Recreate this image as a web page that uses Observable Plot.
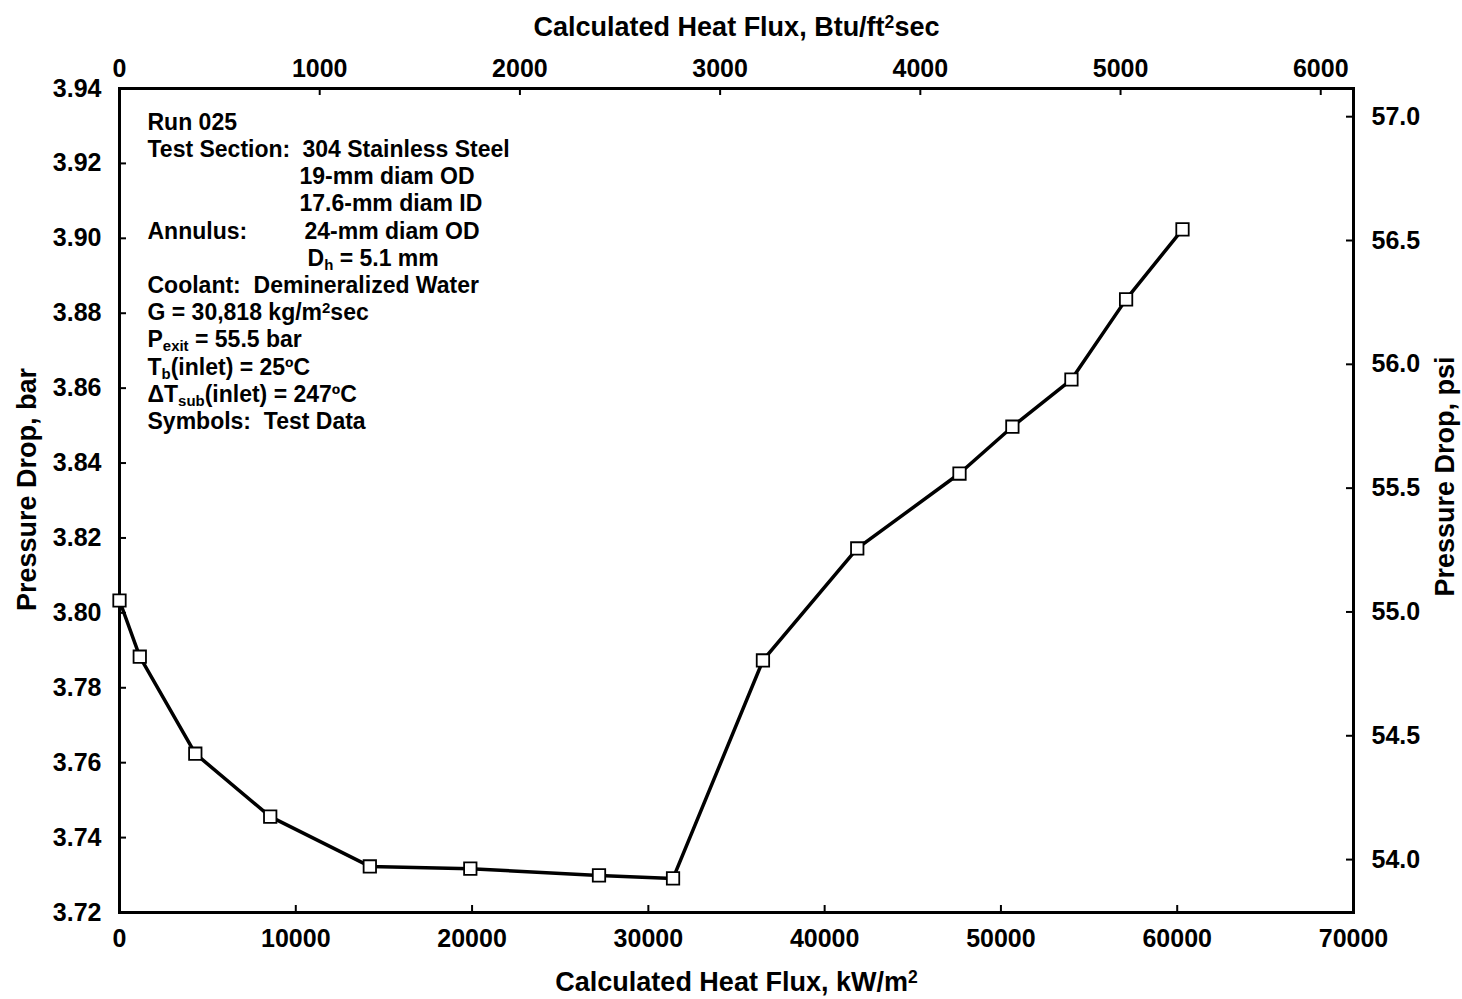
<!DOCTYPE html>
<html>
<head>
<meta charset="utf-8">
<script src="https://cdn.jsdelivr.net/npm/d3@7"></script>
<script src="https://cdn.jsdelivr.net/npm/@observablehq/plot@0.6"></script>
<style>
  html, body { margin: 0; padding: 0; background: #fff; }
  #chart svg { display: block; }
</style>
</head>
<body>
<div id="chart"></div>
<script>
// ---- Data ----
const heatFluxKw = [0, 1150, 4300, 8550, 14200, 19900, 27200, 31400, 36500, 41850, 47650, 50650, 54000, 57100, 60300];
const pressureDropBar = [3.8033, 3.7883, 3.7624, 3.7456, 3.7323, 3.7317, 3.7299, 3.7291, 3.7873, 3.8172, 3.8372, 3.8497, 3.8623, 3.8837, 3.9024];

const xTicksKw = [0, 10000, 20000, 30000, 40000, 50000, 60000, 70000];
const yTicksBar = [3.72, 3.74, 3.76, 3.78, 3.80, 3.82, 3.84, 3.86, 3.88, 3.90, 3.92, 3.94];
const topTicksBtu = [0, 1000, 2000, 3000, 4000, 5000, 6000];
const rightTicksPsi = [54.0, 54.5, 55.0, 55.5, 56.0, 56.5, 57.0];

// unit conversions (secondary axes)
const kwPerBtu = 11.357;            // 1 Btu/ft^2 s = 11.357 kW/m^2
const psiAtMid = 55.5, barAtMid = 3.8333, psiPerBar = 15.125; // right-axis alignment as drawn

const titleTop = "Calculated Heat Flux, Btu/ft^{2}sec";
const titleBottom = "Calculated Heat Flux, kW/m^{2}";
const titleLeft = "Pressure Drop, bar";
const titleRight = "Pressure Drop, psi";

const notesLeft = [
  "Run 025",
  "Test Section:",
  "Annulus:",
  "Coolant:\u00a0\u00a0Demineralized Water",
  "G = 30,818 kg/m^{2}sec",
  "P_{exit} = 55.5 bar",
  "T_{b}(inlet) = 25ºC",
  "ΔT_{sub}(inlet) = 247ºC",
  "Symbols:\u00a0\u00a0Test Data"
];
const notesRight = [
  "304 Stainless Steel",
  "19-mm diam OD",
  "17.6-mm diam ID",
  "24-mm diam OD",
  "D_{h} = 5.1 mm"
];

// ---- build ----
const points = heatFluxKw.map((x, i) => ({x, y: pressureDropBar[i]}));
const topTicks = topTicksBtu.map(b => ({v: b * kwPerBtu, label: String(b)}));
const rightTicks = rightTicksPsi.map(p => ({v: barAtMid + (p - psiAtMid) / psiPerBar, label: p.toFixed(1)}));

const W = 1462, H = 999;
const mL = 119, mR = 109, mT = 88, mB = 87;
const fw = W - mL - mR, fh = H - mT - mB;
const tick = 7;

// layout of annotation lines (row index, x offset within frame)
const leftRows = [0, 1, 4, 6, 7, 8, 9, 10, 11];
const leftDx = 28;
const rightLayout = [[1, 183], [2, 180], [3, 180], [4, 185], [5, 188]];
const rowY = r => 34 + r * 27.2;

const font = "'Liberation Sans', Arial, sans-serif";
const noteSize = 23, tickSize = 25, titleSize = 27;

const noteMarks = [];
notesLeft.forEach((t, i) => {
  noteMarks.push(Plot.text([t], {frameAnchor: "top-left", text: d => d, textAnchor: "start", lineAnchor: "middle",
    dx: leftDx, dy: rowY(leftRows[i]), fontSize: noteSize, fontWeight: "bold", fill: "black"}));
});
notesRight.forEach((t, i) => {
  const [r, dx] = rightLayout[i];
  noteMarks.push(Plot.text([t], {frameAnchor: "top-left", text: d => d, textAnchor: "start", lineAnchor: "middle",
    dx, dy: rowY(r), fontSize: noteSize, fontWeight: "bold", fill: "black"}));
});

const chart = Plot.plot({
  width: W, height: H,
  marginLeft: mL, marginRight: mR, marginTop: mT, marginBottom: mB,
  style: {fontFamily: font, fontWeight: "bold", fontSize: tickSize + "px", color: "black", background: "white"},
  x: {domain: [0, 70000], axis: null},
  y: {domain: [3.72, 3.94], axis: null},
  marks: [
    // tick marks (inward)
    Plot.ruleX(xTicksKw, {insetTop: fh - tick, stroke: "black", strokeWidth: 2}),
    Plot.ruleX(topTicks, {x: "v", insetBottom: fh - tick, stroke: "black", strokeWidth: 2}),
    Plot.ruleY(yTicksBar, {insetRight: fw - tick, stroke: "black", strokeWidth: 2}),
    Plot.ruleY(rightTicks, {y: "v", insetLeft: fw - tick, stroke: "black", strokeWidth: 2}),
    // tick labels
    Plot.text(xTicksKw, {x: d => d, text: d => String(d), frameAnchor: "bottom", lineAnchor: "middle", textAnchor: "middle", dy: 26, fontSize: tickSize, fontWeight: "bold"}),
    Plot.text(topTicks, {x: "v", text: "label", frameAnchor: "top", lineAnchor: "middle", textAnchor: "middle", dy: -20, fontSize: tickSize, fontWeight: "bold"}),
    Plot.text(yTicksBar, {y: d => d, text: d => d.toFixed(2), frameAnchor: "left", lineAnchor: "middle", textAnchor: "end", dx: -18, fontSize: tickSize, fontWeight: "bold"}),
    Plot.text(rightTicks, {y: "v", text: "label", frameAnchor: "right", lineAnchor: "middle", textAnchor: "start", dx: 18, fontSize: tickSize, fontWeight: "bold"}),
    // axis titles
    Plot.text([titleTop], {text: d => d, frameAnchor: "top", lineAnchor: "middle", textAnchor: "middle", dy: -61, fontSize: titleSize, fontWeight: "bold"}),
    Plot.text([titleBottom], {text: d => d, frameAnchor: "bottom", lineAnchor: "middle", textAnchor: "middle", dy: 70, fontSize: titleSize, fontWeight: "bold"}),
    Plot.text([titleLeft], {text: d => d, frameAnchor: "left", lineAnchor: "middle", textAnchor: "middle", dx: -92, dy: -11, rotate: -90, fontSize: titleSize, fontWeight: "bold"}),
    Plot.text([titleRight], {text: d => d, frameAnchor: "right", lineAnchor: "middle", textAnchor: "middle", dx: 92, dy: -24, rotate: -90, fontSize: titleSize, fontWeight: "bold"}),
    // frame
    Plot.frame({stroke: "black", strokeWidth: 3}),
    // data
    Plot.line(points, {x: "x", y: "y", stroke: "black", strokeWidth: 3.5}),
    Plot.dot(points, {x: "x", y: "y", symbol: "square", r: 7, fill: "white", stroke: "black", strokeWidth: 1.8}),
    ...noteMarks
  ]
});

// rich text: ^{..} superscripts and _{..} subscripts
d3.select(chart).selectAll("text").each(function() {
  const el = this;
  const targets = el.querySelectorAll("tspan").length ? Array.from(el.querySelectorAll("tspan")) : [el];
  targets.forEach(t => {
    const s = t.textContent;
    if (!/[_^]\{/.test(s)) return;
    t.textContent = "";
    const re = /([_^])\{([^}]*)\}/g;
    let last = 0, m;
    const ns = "http://www.w3.org/2000/svg";
    const add = (txt, kind) => {
      const ts = document.createElementNS(ns, "tspan");
      ts.textContent = txt;
      if (kind === "^") { ts.setAttribute("baseline-shift", "45%"); ts.setAttribute("font-size", "65%"); }
      if (kind === "_") { ts.setAttribute("baseline-shift", "-25%"); ts.setAttribute("font-size", "65%"); }
      t.appendChild(ts);
    };
    while ((m = re.exec(s))) {
      if (m.index > last) add(s.slice(last, m.index));
      add(m[2], m[1]);
      last = re.lastIndex;
    }
    if (last < s.length) add(s.slice(last));
  });
});

document.getElementById("chart").appendChild(chart);
</script>
</body>
</html>
